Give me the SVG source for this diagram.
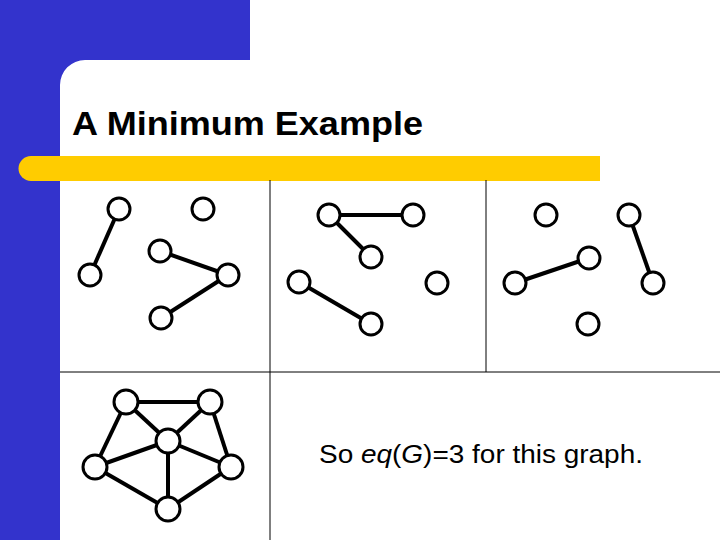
<svg xmlns="http://www.w3.org/2000/svg" width="720" height="540" viewBox="0 0 720 540">
<style>
.n{fill:#fff;stroke:#000;stroke-width:3}
.e line{stroke:#000;stroke-width:4}
.g{stroke:#000;stroke-width:1}
text{font-family:"Liberation Sans",Arial,sans-serif}
</style>
<rect width="720" height="540" fill="#fff"/>
<path d="M0 0H250V60H85A25 25 0 0 0 60 85V540H0Z" fill="#3333cc"/>
<path d="M31 156H600V181H31A12.5 12.5 0 0 1 31 156Z" fill="#ffcc00"/>
<text x="72" y="135" font-size="33" font-weight="bold" textLength="351" lengthAdjust="spacingAndGlyphs">A Minimum Example</text>
<g class="g"><line x1="270" y1="180" x2="270" y2="540"/><line x1="486" y1="180" x2="486" y2="372"/><line x1="60" y1="372" x2="720" y2="372"/></g>
<g class="e">
<line x1="119" y1="209" x2="90" y2="275"/><line x1="160" y1="251" x2="228" y2="275"/><line x1="228" y1="275" x2="161" y2="318"/>
<line x1="329" y1="215" x2="413" y2="215"/><line x1="329" y1="215" x2="371" y2="257"/><line x1="299" y1="282" x2="371" y2="324"/>
<line x1="629" y1="215" x2="653" y2="283"/><line x1="515" y1="283" x2="589" y2="258"/>
<line x1="126" y1="402" x2="210" y2="402"/><line x1="126" y1="402" x2="168" y2="441"/><line x1="210" y1="402" x2="168" y2="441"/>
<line x1="126" y1="402" x2="95" y2="467"/><line x1="210" y1="402" x2="231" y2="467"/><line x1="168" y1="441" x2="95" y2="467"/>
<line x1="168" y1="441" x2="231" y2="467"/><line x1="168" y1="441" x2="168" y2="509"/><line x1="95" y1="467" x2="168" y2="509"/><line x1="231" y1="467" x2="168" y2="509"/>
</g>
<g id="p1"><circle class="n" cx="119" cy="209" r="11"/><circle class="n" cx="203" cy="209" r="11"/><circle class="n" cx="90" cy="275" r="11"/><circle class="n" cx="160" cy="251" r="11"/><circle class="n" cx="228" cy="275" r="11"/><circle class="n" cx="161" cy="318" r="11"/></g>
<g id="p2"><circle class="n" cx="329" cy="215" r="11"/><circle class="n" cx="413" cy="215" r="11"/><circle class="n" cx="371" cy="257" r="11"/><circle class="n" cx="299" cy="282" r="11"/><circle class="n" cx="437" cy="283" r="11"/><circle class="n" cx="371" cy="324" r="11"/></g>
<g id="p3"><circle class="n" cx="546" cy="215" r="11"/><circle class="n" cx="629" cy="215" r="11"/><circle class="n" cx="589" cy="258" r="11"/><circle class="n" cx="515" cy="283" r="11"/><circle class="n" cx="653" cy="283" r="11"/><circle class="n" cx="588" cy="324" r="11"/></g>
<g id="p4"><circle class="n" cx="126" cy="402" r="12"/><circle class="n" cx="210" cy="402" r="12"/><circle class="n" cx="168" cy="441" r="12"/><circle class="n" cx="95" cy="467" r="12"/><circle class="n" cx="231" cy="467" r="12"/><circle class="n" cx="168" cy="509" r="12"/></g>
<text x="319" y="463" font-size="26" textLength="324" lengthAdjust="spacingAndGlyphs">So <tspan font-style="italic">eq</tspan>(<tspan font-style="italic">G</tspan>)=3 for this graph.</text>
</svg>
